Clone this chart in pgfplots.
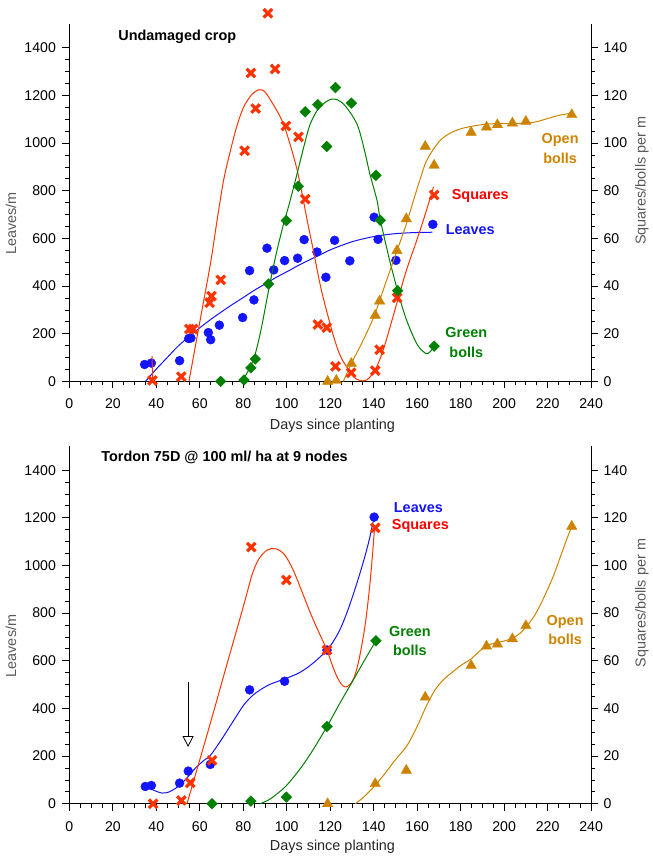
\documentclass[border=0pt]{standalone}
\usepackage{fontspec}
\setmainfont{Liberation Sans}
\usepackage{pgfplots}
\pgfplotsset{compat=1.18}
\usetikzlibrary{arrows.meta}
\definecolor{sqred}{RGB}{255,51,0}
\definecolor{lblred}{RGB}{255,0,0}
\definecolor{lvblue}{RGB}{20,20,255}
\definecolor{gbgreen}{RGB}{0,128,0}
\definecolor{obor}{RGB}{204,132,0}
\definecolor{lblgray}{RGB}{90,90,90}
\pgfplotsset{
  base/.style={scale only axis, width=522.5bp, height=358bp,
    xmin=0, xmax=240, clip=false,
    tick align=outside, major tick length=7bp, minor tick length=4bp,
    axis line style={line width=0.9bp, black},
    every tick/.style={line width=0.8bp, black},
    ticklabel style={font=\fontsize{14.2}{16}\selectfont},
    /pgf/number format/assume math mode=true,
    /pgf/number format/1000 sep={}},
  leftax/.style={base, axis x line*=bottom, axis y line*=left,
    xtick={0,20,...,240}, minor x tick num=3,
    xticklabel style={yshift=-7bp},
    yticklabel style={xshift=-3bp},
    ymin=0, ymax=1500, ytick={0,200,...,1400}, minor y tick num=3},
  rightax/.style={base, axis x line=none, axis y line*=right,
    yticklabel style={xshift=2bp},
    ymin=0, ymax=150, ytick={0,20,...,140}, minor y tick num=3},
  lvmark/.style={only marks, mark=*, mark size=4.5bp, color=lvblue},
  sqmark/.style={only marks, mark=x, mark size=6bp, color=sqred, mark options={line width=3.2bp}},
  gbmark/.style={only marks, mark=square*, mark size=3.8bp, color=gbgreen, mark options={rotate=45}},
  obmark/.style={only marks, mark=triangle*, mark size=6bp, color=obor},
  crv/.style={no marks, smooth, line width=1bp},
}
\newcommand{\lblfont}{\bfseries\fontsize{14.5}{17}\selectfont}
\newcommand{\axfont}{\fontsize{14.5}{17}\selectfont}
\begin{document}
\begin{tikzpicture}
\path (0bp,0bp) rectangle (648bp,857bp);
% ================= TOP PANEL =================
\begin{axis}[leftax, at={(69.5bp,475bp)}, anchor=south west]
\addplot[crv, lvblue] coordinates {(35,0)(40,52)(45,100)(50,148)(56,195)(60,225)(65,260)(70,292)(75,323)(80,352)(85,382)(91,414)(95,436)(100,460)(105,485)(110,508)(115,530)(120,552)(125,570)(130,586)(135,598)(140,608)(145,615)(150,620)(155,623)(160,625)(167,626)};
\addplot[lvmark] coordinates {(34.6,71)(37.7,77)(50.7,87)(54.9,180)(55.9,182)(63.9,205)(65.0,175)(69.0,236)(79.7,268)(82.9,465)(84.9,342)(90.9,559)(94.0,468)(99.0,507)(105.0,517)(108.0,595)(113.9,543)(118.0,437)(122.0,592)(129.0,506)(140.2,689)(142.0,596)(150.2,508)(167.2,659)};
\end{axis}
\begin{axis}[rightax, at={(69.5bp,475bp)}, anchor=south west]
% squares
\addplot[no marks, line width=1bp, sqred] coordinates {(38.0,10.6)(38.4,0)};
\addplot[crv, sqred] coordinates {(55,0)(60,25)(65,50)(68,68)(71,84.7)(74,96.5)(77,107)(80.1,115)(84,120.5)(87.4,122.4)(90,121.5)(93.9,116)(97,111)(99.3,106)(102,98)(104.7,89)(107,79)(109.3,68)(112,56)(116,38)(121.5,19)(125,10)(129.2,4)(132,1)(135.3,0.2)(138,1.5)(141.5,6.4)(145,15)(150.7,33)(155,46.5)(159.9,59.5)(164,71)(167.5,81.6)};
\addplot[sqmark] coordinates {(38.2,0.4)(51.5,2)(55.2,22)(56.9,22)(64.5,33)(65.4,35.8)(69.6,42.6)(80.6,96.8)(83.5,129.4)(85.7,114.5)(91.3,154.5)(94.6,131.1)(99.6,107.2)(105.4,102.6)(108.5,76.5)(114.3,23.9)(118.4,22.6)(122.4,6.3)(129.6,3.6)(140.7,4.5)(142.7,13.3)(150.8,35.1)(167.8,78.2)};
% green bolls
\addplot[crv, gbgreen] coordinates {(79.4,0)(82,4)(85,10)(88,21)(91.6,38)(95,53)(98.5,66)(101,74)(104.7,87)(108,99)(110.8,108)(115,115)(120.8,118.5)(126,116.5)(132.3,108)(136,96)(138.1,87.5)(141.5,76)(143,68)(147,52)(151,38)(155,26)(160,15.5)(164,11.7)(166,12.5)(167.8,14.8)};
\addplot[gbmark] coordinates {(69.6,0)(80.3,0.6)(83.5,5.7)(85.5,9.4)(91.6,40.9)(99.8,67.5)(105.3,81.9)(108.5,113.2)(114.3,116.1)(118.4,98.6)(122.4,123.3)(129.7,116.8)(141.0,86.5)(143.0,67.6)(151.0,38.1)(167.8,14.8)};
% open bolls
\addplot[crv, obor] coordinates {(126,0)(130,8)(135,17)(140,27)(145,40)(150,53)(155,66)(158.3,76)(161.4,85)(164,92)(167.5,97.5)(171,101.5)(175.2,104.2)(180,106)(184.8,107)(192,108)(200,108.2)(210,108.3)(215,109)(220,110.3)(225,111.6)(231.1,112.6)};
\addplot[obmark] coordinates {(118.8,0)(122.8,0.4)(129.7,7.5)(140.7,27.7)(142.7,33.7)(150.7,54.9)(155.0,68.2)(163.7,98.6)(167.8,90.7)(184.8,104.5)(191.9,106.7)(196.9,107.7)(203.8,108.4)(210.0,109.1)(231.1,111.9)};
\end{axis}
% ================= BOTTOM PANEL =================
\begin{axis}[leftax, at={(69.5bp,52bp)}, anchor=south west]
\addplot[crv, lvblue] coordinates {(36.5,68)(39,56)(42.6,45)(46,50)(50.7,77)(54.7,115)(58,150)(62,183)(64.8,202)(70,270)(75.6,350)(80,412)(84,452)(87.8,478)(92,500)(96,514)(99,524)(103,538)(106.2,552)(110,575)(114,605)(118.5,645)(121,675)(124.6,733)(128,810)(131,890)(133.8,971)(136,1040)(138,1110)(140.2,1203)};
\addplot[lvmark] coordinates {(34.9,72.5)(37.7,76.7)(50.7,86.6)(54.7,137)(64.8,165)(82.9,478)(99.0,514)(118.5,645)(140.2,1203)};
\draw[-{Triangle[open,length=11bp,width=11bp]}, line width=0.8bp, black] (axis cs:54.6,510) -- (axis cs:54.6,238);
\end{axis}
\begin{axis}[rightax, at={(69.5bp,52bp)}, anchor=south west]
\addplot[crv, sqred] coordinates {(54.1,0)(60,18.5)(66,37.5)(72,57)(77,73)(81,86)(84,96)(87,102.5)(91,106.5)(95,107)(99,104.5)(103,98)(107,89)(110,82)(113,75.5)(116,69.5)(118.5,64.5)(121,58)(123,53.5)(125,50.3)(126.9,49)(129,50)(131,53)(133,59.5)(135,69)(136.5,78)(138,90)(139.3,103)(140.5,117)};
\addplot[sqmark] coordinates {(38.5,0)(51.5,1.4)(55.6,8.8)(65.6,18.2)(83.7,107.7)(99.8,93.9)(118.5,64.5)(140.7,115.8)};
\addplot[crv, gbgreen] coordinates {(87.8,0)(92,1.8)(96,4.5)(100,7.8)(106.2,14.7)(112,22.5)(118.5,32.4)(124,41.5)(130,51)(135,59)(141,68.4)};
\addplot[gbmark] coordinates {(65.6,0)(83.5,1.1)(99.8,2.8)(118.5,32.4)(141.0,68.4)};
\addplot[crv, obor] coordinates {(131.5,0)(135,2.5)(140,7)(145,12.5)(150,18.5)(155.3,24.4)(160,32.5)(163.7,40)(168,47.5)(172,52)(175.2,54.5)(180,58)(184.8,60.8)(188,63.5)(192,66.3)(196,67.5)(200,68.3)(203.8,69.5)(207,71.3)(210.4,74.5)(214,79)(218,86)(222.7,95.7)(226,104)(228.8,111)(231.1,116.4)};
\addplot[obmark] coordinates {(118.8,0)(140.7,8.4)(155.0,14)(163.7,44.7)(184.8,58)(191.9,66.1)(196.9,67)(203.8,69.2)(210.0,74.7)(231.1,116.4)};
\end{axis}
% ================= TEXT =================
\node[font=\lblfont, anchor=base west] at (115bp,816.3bp) {Undamaged crop};
\node[font=\lblfont, anchor=base west, text=lblred] at (449bp,657bp) {Squares};
\node[font=\lblfont, anchor=base west, text=lvblue] at (443bp,622bp) {Leaves};
\node[font=\lblfont, anchor=base, text=gbgreen] at (467bp,518.7bp) {Green};
\node[font=\lblfont, anchor=base, text=gbgreen] at (467bp,499.3bp) {bolls};
\node[font=\lblfont, anchor=base, text=obor] at (561bp,713bp) {Open};
\node[font=\lblfont, anchor=base, text=obor] at (561bp,693.7bp) {bolls};
\node[font=\axfont, anchor=base, text=black!85] at (333bp,427bp) {Days since planting};
\node[font=\axfont, rotate=90, text=lblgray] at (11bp,633bp) {Leaves/m};
\node[font=\axfont, rotate=90, text=lblgray] at (643bp,676bp) {Squares/bolls per m};
%
\node[font=\lblfont, anchor=base west] at (98bp,394.7bp) {Tordon 75D @ 100 ml/ ha at 9 nodes};
\node[font=\lblfont, anchor=base west, text=lvblue] at (391bp,343.7bp) {Leaves};
\node[font=\lblfont, anchor=base west, text=lblred] at (389bp,327bp) {Squares};
\node[font=\lblfont, anchor=base, text=gbgreen] at (410.5bp,219.7bp) {Green};
\node[font=\lblfont, anchor=base, text=gbgreen] at (410.5bp,200.3bp) {bolls};
\node[font=\lblfont, anchor=base, text=obor] at (566bp,231bp) {Open};
\node[font=\lblfont, anchor=base, text=obor] at (566bp,211.3bp) {bolls};
\node[font=\axfont, anchor=base, text=black!85] at (333bp,5bp) {Days since planting};
\node[font=\axfont, rotate=90, text=lblgray] at (11bp,210bp) {Leaves/m};
\node[font=\axfont, rotate=90, text=lblgray] at (643bp,253bp) {Squares/bolls per m};
\end{tikzpicture}
\end{document}
